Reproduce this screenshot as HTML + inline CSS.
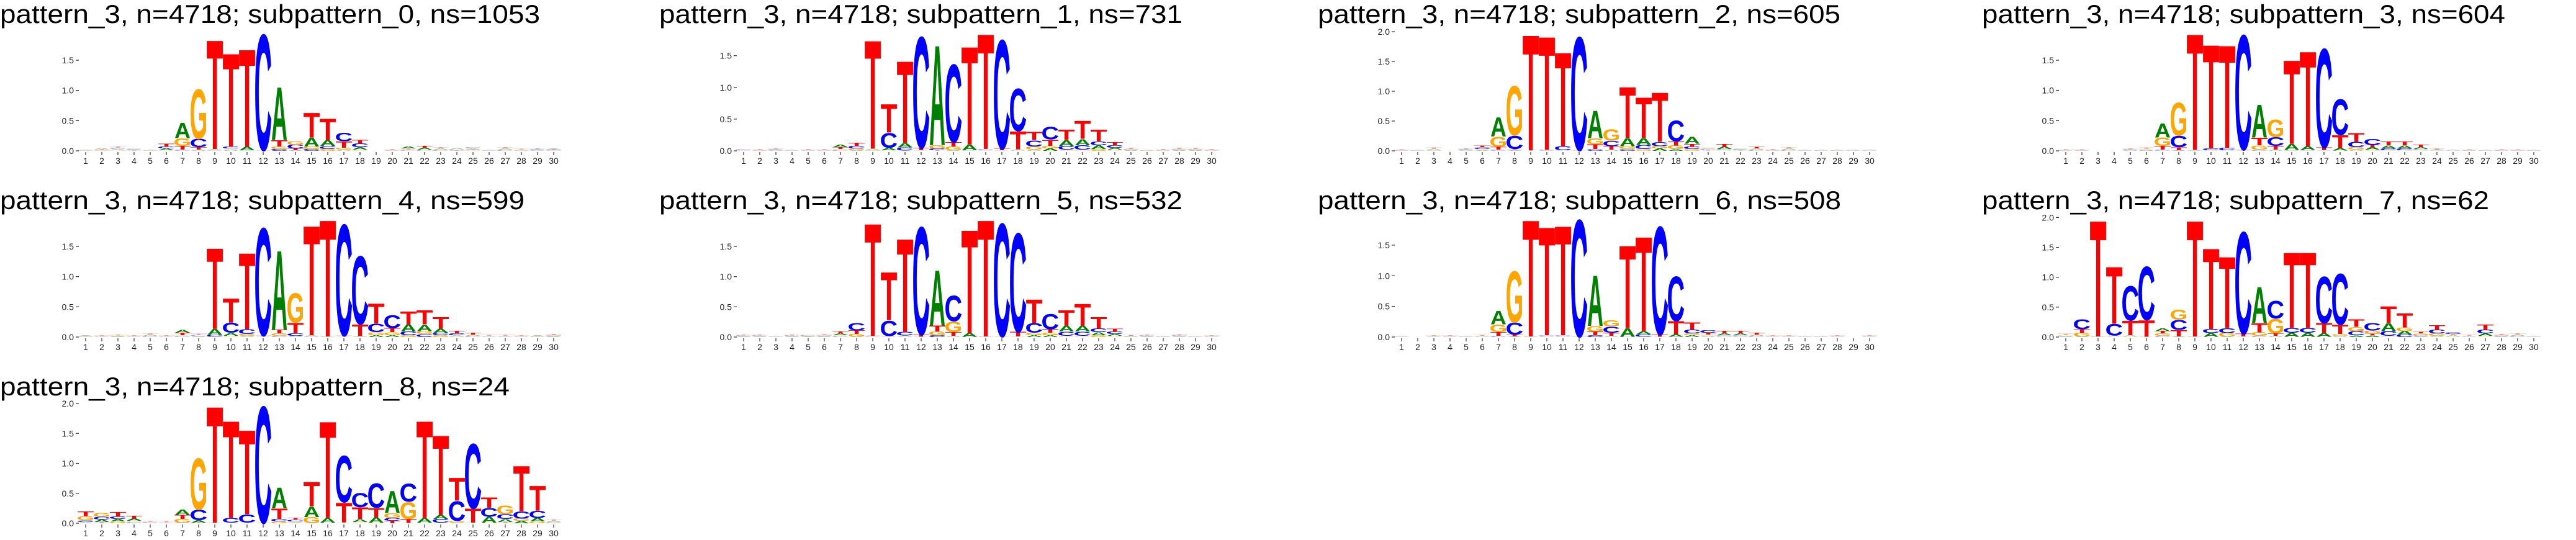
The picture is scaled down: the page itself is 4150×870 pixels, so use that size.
<!DOCTYPE html>
<html><head><meta charset="utf-8"><title>pattern_3 subpattern logos</title>
<style>html,body{margin:0;padding:0;background:#fff;}svg{display:block;}</style></head>
<body>
<svg id="fig" width="4150" height="870" xmlns="http://www.w3.org/2000/svg"></svg>
<script>
const nsVals=[1053,731,605,604,599,532,508,62,24];
const subIdx=[0,1,2,3,4,5,6,7,8];
const positions=[1,2,3,4,5,6,7,8,9,10,11,12,13,14,15,16,17,18,19,20,21,22,23,24,25,26,27,28,29,30];
const yTicks=[0,0.5,1.0,1.5,2.0];
const yTickLabels=['0.0','0.5','1.0','1.5','2.0'];
const yMax=[1.9,1.9,2.0,1.9,1.9,1.9,1.9,2.0,2.0];

const a0=[.005,.02,.02,.01,.005,.03,.26,.02,.02,.02,.06,.005,.9,.01,.15,.10,.02,.04,.002,.005,.03,.03,.02,.02,.02,.003,.02,.005,.01,.015];
const c0=[.005,.005,.02,.01,.005,.03,.02,.14,.005,.03,.005,1.97,.03,.06,.03,.05,.14,.06,.002,.005,.01,.01,.01,.01,.02,.003,.01,.005,.01,.01];
const g0=[.005,.01,.01,.005,.005,.01,.13,.84,.005,.02,.005,.005,.04,.06,.04,.03,.03,.02,.002,.005,.01,.01,.01,.01,.01,.003,.01,.01,.005,.005];
const t0=[.005,.01,.02,.005,.005,.05,.06,.04,1.86,1.59,1.66,.005,.11,.03,.42,.36,.11,.06,.002,.01,.02,.03,.02,.005,.01,.003,.02,.01,.01,.01];

const a1=[.005,.005,.01,.003,.005,.005,.04,.01,.02,.04,.07,.005,1.62,.01,.09,.005,.005,.02,.02,.04,.09,.10,.06,.03,.01,.003,.005,.01,.01,.005];
const c1=[.01,.005,.01,.003,.005,.005,.01,.04,.005,.24,.05,1.8,.03,1.26,.005,.02,1.76,.69,.10,.20,.06,.07,.06,.04,.01,.003,.005,.01,.01,.005];
const g1=[.005,.005,.005,.003,.005,.005,.02,.03,.01,.01,.005,.005,.05,.06,.005,.005,.005,.005,.05,.04,.02,.02,.03,.02,.01,.003,.005,.01,.01,.005];
const t1=[.005,.01,.01,.003,.01,.01,.03,.05,1.76,.46,1.33,.04,.01,.07,1.59,1.87,.03,.29,.13,.10,.17,.29,.19,.05,.02,.003,.01,.02,.015,.01];

const a2=[.003,.003,.02,.002,.01,.01,.33,.01,.002,.003,.005,.003,.48,.02,.14,.12,.04,.03,.12,.005,.04,.01,.02,.005,.02,.003,.003,.003,.005,.005];
const c2=[.003,.003,.005,.002,.01,.03,.02,.23,.002,.01,.07,1.95,.03,.09,.03,.07,.07,.36,.04,.02,.02,.01,.01,.005,.01,.003,.003,.003,.005,.005];
const g2=[.003,.003,.01,.002,.005,.02,.17,.85,.002,.003,.005,.003,.10,.19,.05,.03,.04,.06,.03,.02,.01,.005,.01,.005,.01,.003,.003,.003,.005,.005];
const t2=[.01,.003,.02,.002,.01,.03,.05,.02,2.0,1.96,1.62,.01,.08,.06,.88,.70,.85,.07,.05,.01,.05,.005,.03,.01,.02,.003,.003,.003,.005,.005];

const a3=[.003,.003,.002,.002,.01,.01,.24,.01,.005,.005,.005,.003,.56,.02,.10,.06,.005,.04,.02,.04,.05,.05,.03,.01,.005,.003,.003,.003,.003,.003];
const c3=[.003,.003,.002,.002,.01,.005,.02,.19,.005,.03,.04,1.95,.02,.15,.005,.01,1.68,.61,.09,.10,.03,.03,.02,.005,.005,.003,.003,.003,.003,.003];
const g3=[.003,.003,.002,.002,.005,.02,.14,.56,.005,.005,.005,.003,.07,.29,.01,.005,.005,.005,.04,.02,.01,.01,.01,.005,.005,.003,.003,.003,.003,.003];
const t3=[.01,.01,.002,.002,.01,.02,.06,.05,1.98,1.77,1.75,.02,.13,.06,1.43,1.62,.05,.22,.15,.04,.06,.06,.04,.02,.005,.01,.005,.01,.01,.003];

const a4=[.01,.005,.01,.005,.02,.005,.05,.01,.10,.05,.02,.005,1.35,.02,.02,.003,.005,.01,.03,.03,.12,.11,.07,.02,.02,.005,.005,.005,.01,.01];
const c4=[.005,.005,.005,.005,.01,.005,.01,.02,.03,.17,.08,1.83,.02,.04,.005,.003,1.89,1.16,.14,.22,.06,.05,.04,.03,.01,.005,.005,.005,.005,.01];
const g4=[.005,.005,.01,.005,.01,.005,.02,.005,.005,.02,.03,.005,.04,.50,.005,.003,.005,.005,.05,.05,.03,.05,.03,.01,.01,.005,.005,.005,.005,.01];
const t4=[.005,.01,.01,.01,.02,.01,.04,.02,1.38,.41,1.30,.02,.06,.18,1.87,1.99,.02,.20,.34,.07,.22,.24,.20,.04,.03,.02,.02,.01,.005,.02];

const a5=[.01,.01,.003,.01,.01,.01,.03,.01,.005,.005,.02,.003,.94,.02,.06,.003,.003,.005,.03,.03,.10,.10,.05,.03,.01,.01,.005,.01,.005,.005];
const c5=[.01,.01,.003,.01,.01,.01,.01,.13,.01,.26,.06,1.83,.03,.44,.003,.003,1.92,1.68,.16,.26,.07,.07,.06,.04,.005,.01,.005,.01,.005,.005];
const g5=[.005,.005,.003,.005,.01,.01,.02,.04,.003,.01,.005,.003,.06,.18,.003,.003,.003,.005,.04,.04,.02,.02,.03,.02,.005,.005,.005,.005,.005,.005];
const t5=[.01,.01,.003,.01,.005,.015,.03,.06,1.92,.82,1.59,.04,.10,.06,1.76,1.99,.01,.08,.40,.06,.26,.37,.20,.05,.01,.01,.005,.02,.005,.01];

const a6=[.003,.002,.005,.005,.003,.005,.23,.01,.003,.005,.005,.003,.85,.02,.14,.05,.003,.04,.03,.02,.03,.03,.02,.005,.005,.003,.003,.005,.002,.005];
const c6=[.003,.002,.005,.005,.003,.005,.02,.20,.003,.02,.02,1.96,.03,.10,.003,.04,1.81,.75,.06,.04,.02,.02,.01,.005,.005,.003,.003,.005,.002,.005];
const g6=[.003,.002,.005,.005,.003,.01,.13,.86,.003,.005,.005,.003,.09,.11,.003,.005,.003,.005,.03,.02,.01,.01,.01,.005,.005,.003,.003,.005,.002,.005];
const t6=[.005,.002,.01,.01,.005,.01,.06,.03,1.96,1.82,1.84,.005,.06,.05,1.39,1.59,.04,.22,.12,.03,.04,.04,.03,.01,.01,.005,.005,.01,.002,.01];

const a7=[.01,.01,.003,.005,.02,.003,.05,.01,.003,.06,.01,.005,.62,.02,.07,.07,.06,.02,.03,.03,.14,.06,.01,.02,.02,.005,.04,.01,.02,.003];
const c7=[.005,.17,.003,.20,.59,.92,.02,.17,.003,.07,.08,1.75,.02,.30,.08,.08,.80,.88,.07,.13,.08,.04,.02,.06,.03,.005,.06,.01,.01,.003];
const g7=[.02,.06,.003,.02,.01,.003,.04,.17,.003,.005,.06,.005,.06,.25,.005,.005,.005,.03,.07,.05,.02,.06,.03,.04,.01,.005,.02,.01,.01,.003];
const t7=[.02,.06,2.0,.98,.25,.28,.04,.11,2.0,1.39,1.23,.05,.16,.04,1.30,1.30,.17,.16,.13,.03,.28,.24,.03,.08,.02,.02,.09,.02,.02,.003];

const a8=[.02,.04,.04,.04,.005,.005,.09,.04,.003,.005,.005,.003,.36,.01,.18,.08,.005,.05,.09,.38,.005,.08,.07,.01,.005,.10,.05,.04,.06,.02];
const c8=[.03,.05,.04,.02,.01,.005,.01,.18,.003,.08,.14,2.0,.04,.03,.005,.005,.80,.24,.42,.05,.31,.005,.06,.34,1.11,.15,.08,.12,.12,.01];
const g8=[.07,.06,.03,.02,.01,.005,.06,.88,.003,.005,.005,.003,.03,.02,.10,.005,.005,.02,.01,.08,.29,.005,.01,.03,.005,.01,.15,.04,.03,.01];
const t8=[.08,.02,.08,.05,.01,.02,.07,.01,2.0,1.67,1.45,.003,.18,.03,.42,1.66,.34,.20,.16,.04,.07,1.67,1.37,.39,.24,.18,.02,.78,.43,.02];

const aSeries=[a0,a1,a2,a3,a4,a5,a6,a7,a8];
const cSeries=[c0,c1,c2,c3,c4,c5,c6,c7,c8];
const gSeries=[g0,g1,g2,g3,g4,g5,g6,g7,g8];
const tSeries=[t0,t1,t2,t3,t4,t5,t6,t7,t8];

// layout (not data)
const NS='http://www.w3.org/2000/svg';
const svg=document.getElementById('fig');
const rowY0=[243,543,843];
const colPos1=[138,148,158,178];
const colTitleX=[0,12,23,43];
const titleW=[870,843,842,843,845,843,843,817,821];
const pxPerUnit=[97.3,102.2,96,97.3,97.3,97.3,98.7,96.3,96.5];
const STEP=26, LW=25;
const glyph={A:{c:'#008000',lsb:1,w:70},C:{c:'#0000ff',lsb:5,w:63},G:{c:'#ffa500',lsb:5,w:68},T:{c:'#ff0000',lsb:2,w:57}};
const CAP=71.6;

function el(tag,attrs,parent){const e=document.createElementNS(NS,tag);for(const k in attrs)e.setAttribute(k,attrs[k]);parent.appendChild(e);return e;}

for(let p=0;p<9;p++){
  const col=p%4,row=Math.floor(p/4);
  const ox=col*1050,y0=rowY0[row],x1=ox+colPos1[col],k=pxPerUnit[p];
  const xs=i=>x1+(positions[i]-1)*STEP;
  const ys=v=>y0-v*k;
  const g=el('g',{},svg);
  
  
  const t=el('text',{x:ox+colTitleX[col],y:y0-206,'font-family':'Liberation Sans, sans-serif','font-size':42,textLength:titleW[p],lengthAdjust:'spacingAndGlyphs',fill:'#000'},g);
  
  
  t.textContent='pattern_3, n=4718; subpattern_'+subIdx[p]+', ns='+nsVals[p];
  // y axis ticks
  const ya=el('g',{},g);
  
  
  yTicks.forEach((v,j)=>{
    if(v>yMax[p]+1e-9)return;
    const yy=ys(v);
    el('line',{x1:x1-16,x2:x1-11,y1:yy,y2:yy,stroke:'#333','stroke-width':1.2},ya);
    const lt=el('text',{x:x1-19,y:yy+5,'text-anchor':'end','font-family':'Liberation Sans, sans-serif','font-size':14,fill:'#222'},ya);
    
    
    lt.textContent=yTickLabels[j];
  });
  // x axis
  const xa=el('g',{},g);
  
  
  positions.forEach((pos,i)=>{
    const xx=xs(i);
    el('line',{x1:xx,x2:xx,y1:y0+2,y2:y0+7,stroke:'#333','stroke-width':1.2},xa);
    const lt=el('text',{x:xx,y:y0+21,'text-anchor':'middle','font-family':'Liberation Sans, sans-serif','font-size':14,fill:'#222'},xa);
    
    
    lt.textContent=String(pos);
  });
  // letters
  const lg=el('g',{},g);
  
  
  positions.forEach((pos,i)=>{
    const items=[['A',aSeries[p][i]],['C',cSeries[p][i]],['G',gSeries[p][i]],['T',tSeries[p][i]]].sort((a,b)=>a[1]-b[1]);
    let cum=0;
    items.forEach(([L,v])=>{
      if(v<=0)return;
      const yb=ys(cum),yt=ys(cum+v);cum+=v;
      const h=yb-yt;
      const gl=glyph[L];
      const sx=LW/gl.w,sy=h/CAP;
      const left=xs(i)-LW/2;
      const te=el('text',{transform:`translate(${left - gl.lsb*sx},${yb}) scale(${sx},${sy})`,'font-family':'Liberation Sans, sans-serif','font-weight':'bold','font-size':100,fill:gl.c,opacity:v<0.03?0.4:1},lg);
      
      
      te.textContent=L;
    });
  });
}
</script>
</body></html>
